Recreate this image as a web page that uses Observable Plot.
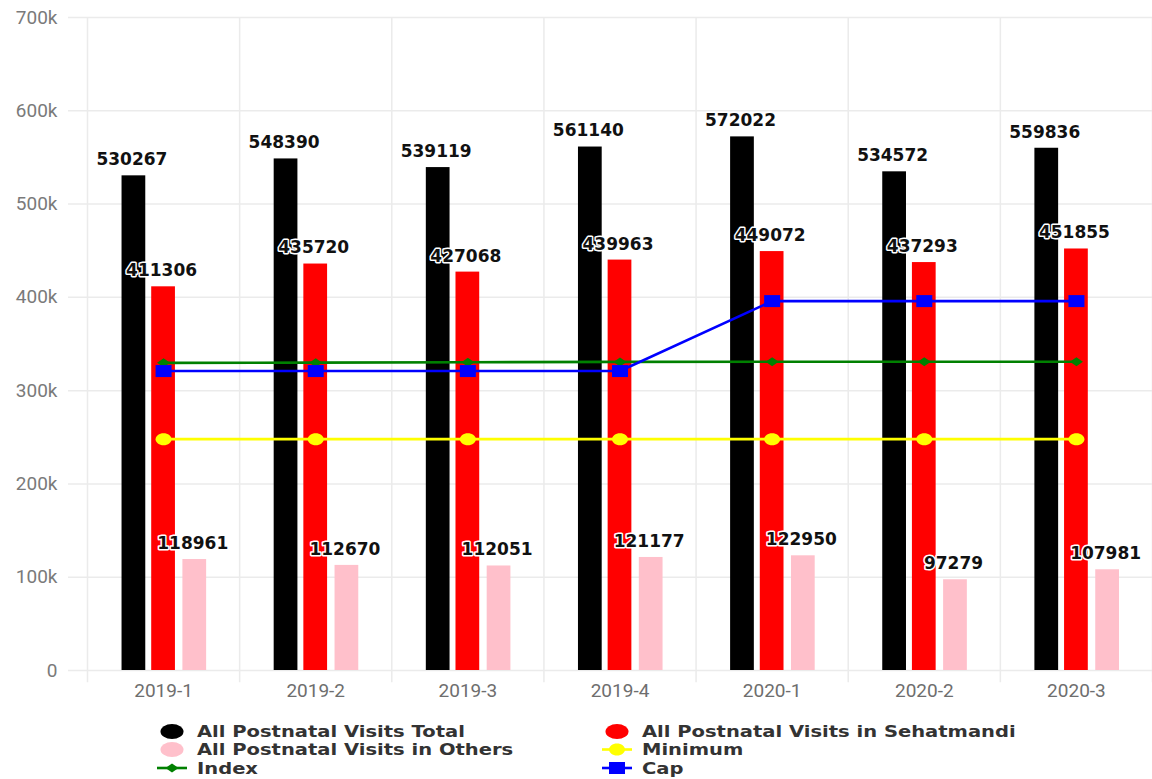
<!DOCTYPE html>
<html><head><meta charset="utf-8">
<script src="https://cdn.jsdelivr.net/npm/d3@7"></script>
<script src="https://cdn.jsdelivr.net/npm/@observablehq/plot@0.6"></script>
<style>
body{margin:0;background:#fff;}
#chart svg{display:block;}
</style></head><body><div id="chart"></div><script>
// ---- data ----
const periods = ["2019-1","2019-2","2019-3","2019-4","2020-1","2020-2","2020-3"];
const totalVisits = [530267,548390,539119,561140,572022,534572,559836];
const sehatmandiVisits = [411306,435720,427068,439963,449072,437293,451855];
const otherVisits = [118961,112670,112051,121177,122950,97279,107981];
const minimumValues = [248000,248000,248000,248000,248000,248000,248000];
const indexValues = [329800,330000,330500,330800,331000,331000,331000];
const capValues = [321000,321000,321000,321000,396000,396000,396000];
const yTicks = [0,100000,200000,300000,400000,500000,600000,700000];

const rows = periods.map((p,i)=>({i, period:p, total:totalVisits[i], sehat:sehatmandiVisits[i], others:otherVisits[i],
  minimum:minimumValues[i], index:indexValues[i], cap:capValues[i]}));

// ---- styles ----
const barSeries = [
  {key:"total", name:"All Postnatal Visits Total", offset:-0.195, color:"#000000"},
  {key:"sehat", name:"All Postnatal Visits in Sehatmandi", offset:0, color:"#ff0000"},
  {key:"others", name:"All Postnatal Visits in Others", offset:0.205, color:"#ffc0cb"}
];
const halfBar = 0.078;

const ellipseSymbol = (rx, ry) => ({draw(ctx){ const k=0.5523;
  ctx.moveTo(rx,0); ctx.bezierCurveTo(rx,ry*k,rx*k,ry,0,ry); ctx.bezierCurveTo(-rx*k,ry,-rx,ry*k,-rx,0);
  ctx.bezierCurveTo(-rx,-ry*k,-rx*k,-ry,0,-ry); ctx.bezierCurveTo(rx*k,-ry,rx,-ry*k,rx,0); ctx.closePath();}});
const rectSymbol = (w,h) => ({draw(ctx){ ctx.rect(-w/2,-h/2,w,h); }});
const diamondSymbol = (w,h) => ({draw(ctx){ ctx.moveTo(0,-h/2); ctx.lineTo(w/2,0); ctx.lineTo(0,h/2); ctx.lineTo(-w/2,0); ctx.closePath(); }});

const lineSeries = [
  {key:"minimum", name:"Minimum", color:"#ffff00", symbol: ellipseSymbol(8,6)},
  {key:"index", name:"Index", color:"#008000", symbol: diamondSymbol(13,9)},
  {key:"cap", name:"Cap", color:"#0000ff", symbol: rectSymbol(16,12)}
];

const gridColor = "#ebebeb";
const labelFont = "DejaVu Sans, Liberation Sans, sans-serif";

const marks = [];
// grid
marks.push(Plot.ruleY(yTicks, {y: d=>d, x1: -0.625, x2: 6.5, stroke: gridColor, strokeWidth: 1.5}));
marks.push(Plot.ruleX(d3.range(8).map(k=>k-0.5), {x: d=>d, y1: -13000, y2: 700000, stroke: gridColor, strokeWidth: 1.5}));
// bars
for (const s of barSeries) {
  marks.push(Plot.rectY(rows, {x1: d=>d.i+s.offset-halfBar, x2: d=>d.i+s.offset+halfBar, y: d=>d[s.key], fill: s.color}));
}
// lines
for (const s of lineSeries) {
  marks.push(Plot.line(rows, {x: "i", y: s.key, stroke: s.color, strokeWidth: 2.6}));
  marks.push(Plot.dot(rows, {x: "i", y: s.key, fill: s.color, stroke: "none", symbol: s.symbol}));
}
// labels
for (const s of barSeries) {
  marks.push(Plot.text(rows, {x: d=>d.i+s.offset, y: d=>d[s.key], text: d=>String(d[s.key]), dx: -2, dy: -16,
    fontSize: 17, fontWeight: "bold", fontFamily: labelFont, fill: "#111", stroke: "white", strokeWidth: 3}));
}
// axes
marks.push(Plot.axisY({ticks: yTicks, tickFormat: d => d===0 ? "0" : (d/1000)+"k", tickSize: 0, tickPadding: 30,
  label: null, fontSize: 19, fontFamily: "Roboto, sans-serif", color: "#7a7a7a"}));
marks.push(Plot.axisX({ticks: d3.range(7), tickFormat: i => periods[i], tickSize: 0, tickPadding: 13,
  label: null, fontSize: 19, fontFamily: "Roboto, sans-serif", color: "#6e6e6e"}));

const chart = Plot.plot({
  width: 1152, height: 710,
  marginLeft: 87, marginRight: 0, marginTop: 17, marginBottom: 40,
  x: {type: "linear", domain: [-0.5, 6.5]},
  y: {domain: [0, 700000]},
  style: {background: "#fff", overflow: "visible"},
  marks
});
document.getElementById("chart").appendChild(chart);

// ---- legend ----
const legend = d3.select("#chart").append("svg").attr("width",1152).attr("height",69)
  .style("display","block").style("font-family", labelFont);
const legendItems = [
  {type:"bar", s: barSeries[0], col:0, row:0},
  {type:"bar", s: barSeries[1], col:1, row:0},
  {type:"bar", s: barSeries[2], col:0, row:1},
  {type:"line", s: lineSeries[0], col:1, row:1},
  {type:"line", s: lineSeries[1], col:0, row:2},
  {type:"line", s: lineSeries[2], col:1, row:2}
];
const colX = [172, 617], rowY = [21.5, 39.5, 58];
for (const it of legendItems) {
  const cx = colX[it.col], cy = rowY[it.row];
  const g = legend.append("g");
  if (it.type === "bar") {
    g.append("ellipse").attr("cx",cx).attr("cy",cy).attr("rx",11.5).attr("ry",7.5).attr("fill",it.s.color);
  } else {
    g.append("line").attr("x1",cx-15).attr("x2",cx+15).attr("y1",cy).attr("y2",cy).attr("stroke",it.s.color).attr("stroke-width",2.6);
    g.append("path").attr("transform",`translate(${cx},${cy})`).attr("fill",it.s.color)
      .attr("d", (()=>{const p=d3.path(); it.s.symbol.draw(p); return p.toString();})());
  }
  const t = g.append("text").attr("x",cx+25).attr("y",cy).attr("dy","0.36em").attr("font-size",16).attr("font-weight","bold")
    .attr("fill","#333").text(it.s.name);
  const len = t.node().getComputedTextLength();
  if (len > 0) t.attr("textLength", len*1.22).attr("lengthAdjust","spacingAndGlyphs");
}
</script></body></html>
